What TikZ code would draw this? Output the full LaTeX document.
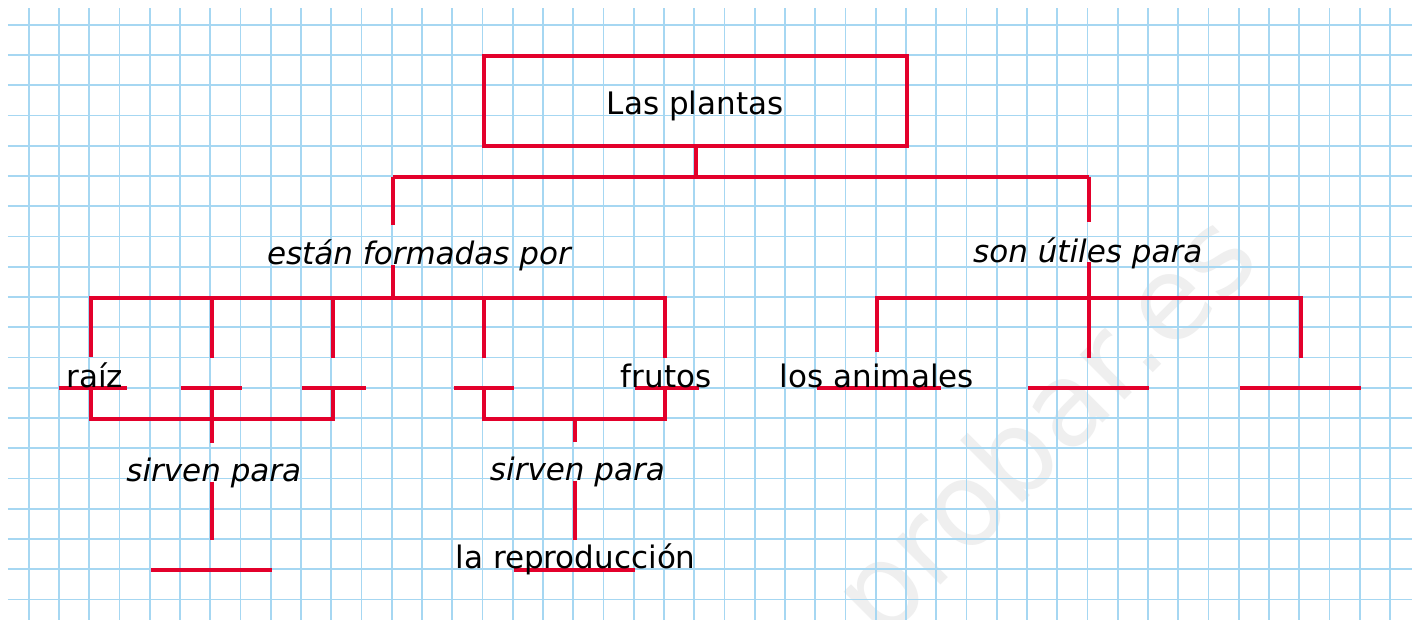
\documentclass[tikz,border=0pt]{standalone}
\usepackage{fontspec}
\setmainfont{DejaVu Sans}
\definecolor{pen}{HTML}{E3002B}
\definecolor{paper}{HTML}{A6D7F2}
\definecolor{stamp}{HTML}{EFEFEF}
\newcommand{\hand}{\fontsize{15.5}{18}\selectfont}
\newcommand{\stampfont}{\fontsize{58}{60}\selectfont}
\begin{document}
\begin{tikzpicture}[x=15.125pt,y=-15.125pt,font=\hand,
  pen line/.style={pen,line width=2pt},
  grid line/.style={paper,line width=0.9pt},
  word/.style={anchor=base,inner xsep=0pt,inner ysep=7.5pt,text=black},
  link/.style={word,font=\hand\itshape}]
\useasboundingbox (-0.998,-0.84) rectangle (45.845,19.656);
\fill[white] (-0.998,-0.84) rectangle (45.845,19.656);
% watermark and squared paper
\node[rotate=45,text=stamp,font=\stampfont] (sello) at (33.7,13.4) {probar.es};
\begin{scope}[shift={(-0.05,-0.02)}]
\foreach \k in {0,...,19} \draw[grid line] (-0.684,\k) -- (45.73,\k);
\foreach \i in {0,...,45} \draw[grid line] (\i,-0.552) -- (\i,19.7);
\end{scope}
% title
\node[draw=pen,line width=2pt,inner sep=0pt,minimum width=211.75pt,minimum height=45.375pt] (plantas) at (22,2.5) {};
\node[word] (titulo) at (21.98,2.93) {Las plantas};
\draw[pen line] (plantas.south) -- (22,5) coordinate (fork);
\draw[pen line] (12,5) coordinate (forkL) -- (35,5) coordinate (forkR);
% link words
\node[link] (formadas) at (12.85,7.92) {están formadas por};
\node[link] (utiles) at (34.96,7.83) {son útiles para};
\draw[pen line] (forkL) -- (formadas.north -| forkL);
\draw[pen line] (formadas.base -| forkL) -- (12,9) coordinate (partes);
\draw[pen line] (forkR) -- (utiles.north -| forkR);
\draw[pen line] (utiles.base -| forkR) -- (35,11) coordinate (usos);
% parts of the plant
\draw[pen line] (2,10.95) |- (21,9) -- (21,11);
\foreach \i in {6,10,15} \draw[pen line] (\i,9) -- (\i,11);
% uses of the plant
\draw[pen line] (28,10.81) |- (42,9) -- (42,11);
% blanks
\foreach \a/\b in {0.95/3.2,5/7,9/11.1,14/16,20/22.1,26/30.1,33/37,40/44}
  \draw[pen line] (\a,12) -- (\b,12);
\node[word] (raiz) at (2.14,11.96) {raíz};
\node[word] (frutos) at (21.02,11.96) {frutos};
\node[word] (animales) at (27.99,11.96) {los animales};
% what the parts are for
\draw[pen line] (2,12) |- (10,13) -- (10,12);
\draw[pen line] (15,12) |- (21,13) -- (21,12);
\coordinate (hubA) at (6,13);
\coordinate (hubB) at (18,13);
\node[link] (sirvenA) at (6.07,15.08) {sirven para};
\node[link] (sirvenB) at (18.09,15.06) {sirven para};
\draw[pen line] (6,12) -- (hubA) -- (sirvenA.north -| hubA);
\draw[pen line] (sirvenA.base -| hubA) -- (6,17);
\draw[pen line] (hubB) -- (sirvenB.north -| hubB);
\draw[pen line] (sirvenB.base -| hubB) -- (18,17);
\draw[pen line] (4,18) -- (8,18);
\draw[pen line] (16,18) -- (20,18);
\node[word] (reproduccion) at (18.03,17.94) {la reproducción};
\end{tikzpicture}
\end{document}
